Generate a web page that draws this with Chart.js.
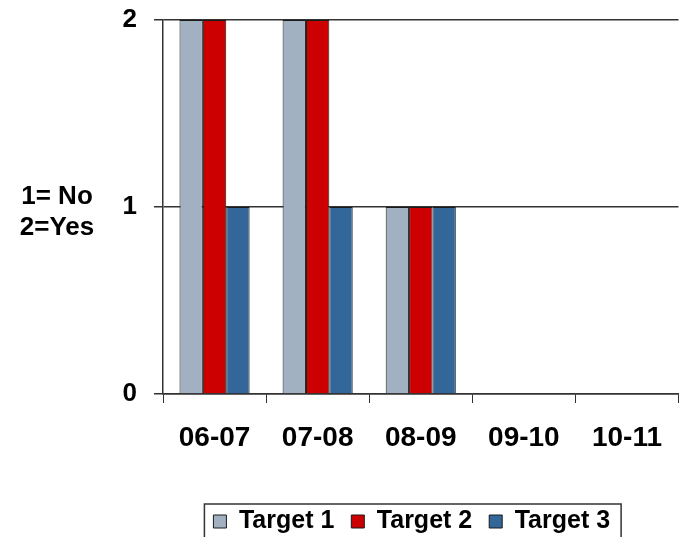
<!DOCTYPE html>
<html>
<head>
<meta charset="utf-8">
<script src="https://cdn.jsdelivr.net/npm/chart.js@4/dist/chart.umd.min.js"></script>
<style>
  html, body { margin: 0; padding: 0; background: #fff; overflow: hidden; }
  #wrap { width: 680px; height: 544px; }
</style>
</head>
<body>
<div id="wrap"><canvas id="chart" width="680" height="544"></canvas></div>
<script>
const years = ["06-07", "07-08", "08-09", "09-10", "10-11"]
const target1 = [2, 2, 1, null, null]
const target2 = [2, 2, 1, null, null]
const target3 = [1, 1, 1, null, null]
const yTicks = [0, 1, 2]
const yTitle = ["1= No", "2=Yes"]

const FONT = "'Liberation Sans', Arial, sans-serif"
const LINE = "#333"

// y title sits horizontally left of the axis, and the legend gets a frame
const extras = {
  id: "extras",
  afterLayout(chart) {
    const lg = chart.legend
    if (lg) lg.left -= 18
  },
  afterDraw(chart) {
    const ctx = chart.ctx
    const area = chart.chartArea
    ctx.save()
    ctx.font = `bold 26px ${FONT}`
    ctx.fillStyle = "#000"
    ctx.textAlign = "center"
    ctx.textBaseline = "middle"
    const cx = area.left - 106
    const cy = (area.top + area.bottom) / 2 + 5
    ctx.fillText(yTitle[0], cx, cy - 15)
    ctx.fillText(yTitle[1], cx, cy + 16)

    const boxes = chart.legend.legendHitBoxes
    if (boxes && boxes.length) {
      const first = boxes[0]
      const last = boxes[boxes.length - 1]
      const x0 = first.left - 9
      const x1 = last.left + last.width + 11
      const y0 = chart.legend.top + 12
      ctx.strokeStyle = LINE
      ctx.lineWidth = 1.5
      ctx.strokeRect(x0, y0, x1 - x0, 60)
    }
    ctx.restore()
  },
}

const ds = (label, data, color) => ({
  label,
  data,
  backgroundColor: color,
  borderColor: "#1a1a1a",
  borderWidth: 1,
  categoryPercentage: 0.68,
  barPercentage: 1.0,
})

new Chart(document.getElementById("chart"), {
  type: "bar",
  data: {
    labels: years,
    datasets: [
      ds("Target 1", target1, "#a2b1c2"),
      ds("Target 2", target2, "#cc0000"),
      ds("Target 3", target3, "#336699"),
    ],
  },
  options: {
    responsive: false,
    animation: false,
    layout: { padding: { top: 20, left: 0, right: 0, bottom: 0 } },
    plugins: {
      tooltip: { enabled: false },
      legend: {
        position: "bottom",
        fullSize: false,
        labels: {
          color: "#000",
          font: { family: FONT, size: 25, weight: "bold" },
          boxWidth: 13,
          boxHeight: 13,
          padding: 17,
        },
      },
    },
    scales: {
      x: {
        offset: true,
        grid: {
          offset: true,
          drawOnChartArea: false,
          drawTicks: true,
          tickLength: 9,
          color: LINE,
        },
        border: { display: true, color: LINE, width: 1.5 },
        ticks: {
          color: "#000",
          font: { family: FONT, size: 28, weight: "bold" },
          padding: 18,
          maxRotation: 0,
        },
        afterFit(scale) { scale.height = 98 },
      },
      y: {
        min: 0,
        max: 2,
        afterBuildTicks(scale) { scale.ticks = yTicks.map(v => ({ value: v })) },
        grid: { color: LINE, lineWidth: 1.5, tickLength: 9 },
        border: { display: true, color: LINE, width: 1.5 },
        ticks: {
          color: "#000",
          font: { family: FONT, size: 26, weight: "bold" },
          padding: 17,
        },
        afterFit(scale) {
          scale.width = 163
          scale.paddingTop = 0
          scale.paddingBottom = 0
        },
      },
    },
  },
  plugins: [extras],
})
</script>
</body>
</html>
